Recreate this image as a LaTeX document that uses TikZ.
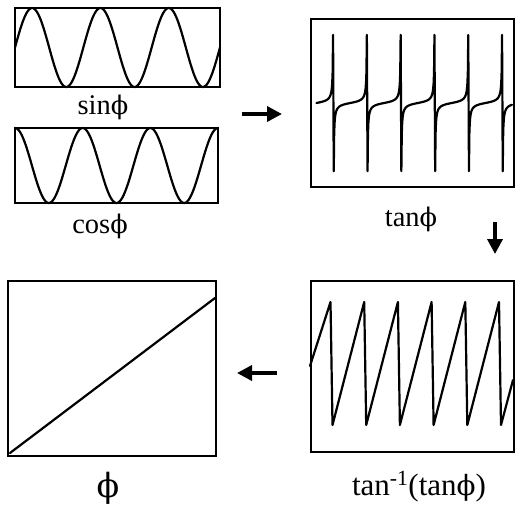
\documentclass[tikz,border=0pt]{standalone}
\usepackage{fontspec}
\setmainfont{Liberation Serif}
\newfontfamily\phifont[Scale=0.9]{DejaVu Serif}
\newcommand{\ph}{{\phifont ϕ}}
\usetikzlibrary{arrows.meta,positioning}

\tikzset{
  panel/.style={draw, line width=1.8pt, inner sep=0pt},
  wave/.style={line width=2.2pt, line join=round, line cap=round},
  toplabel/.style={font=\fontsize{28.5}{28.5}\selectfont, inner sep=0pt, anchor=base},
  botlabel/.style={font=\fontsize{31}{31}\selectfont, inner sep=0pt, anchor=base},
  bigarrow/.style={line width=3.5pt, -{Triangle[length=15pt,width=15pt]}}
}

\begin{document}
\begin{tikzpicture}[x=1pt, y=-1pt]
  \useasboundingbox (0,0) rectangle (516,504);

  % Sine and cosine
  \node[panel, minimum width=205pt, minimum height=79pt] (sinbox) at (117.5,47.5) {};
  \draw[wave] plot[domain=15:220, samples=160] (\x, {47.5-39.5*sin(5.2686*(\x-15))});
  \node[toplabel] (sinlab) at (103,114) {sin\ph};

  \node[panel, minimum width=203pt, minimum height=75pt] (cosbox) at (116.5,165.5) {};
  \draw[wave] plot[domain=15:218, samples=160] (\x, {165.5-37.5*cos(5.3199*(\x-15))});
  \node[toplabel] (coslab) at (100,233) {cos\ph};

  % Tangent
  \node[panel, minimum width=203pt, minimum height=168pt] (tanbox) at (412.5,103) {};
  \draw[wave] plot[domain=0:88.15, samples=40] ({316.5+33.8*\x/180}, {103-2.2*tan(\x)})
    \foreach \n in {1,...,5} {
      -- plot[domain=-88.15:88.15, samples=80] ({316.5+33.8*(\n+\x/180)}, {103-2.2*tan(\x)})
    }
    -- plot[domain=-88.15:-39, samples=30] ({316.5+33.8*(6+\x/180)}, {103-2.2*tan(\x)});
  \node[toplabel] (tanlab) at (411,226) {tan\ph};

  % Arctangent of the tangent
  \node[panel, minimum width=203pt, minimum height=171pt] (atanbox) at (412.5,366.5) {};
  \draw[wave] (310,366) -- (330.5,302)
    \foreach \n in {1,...,5} { -- ++(2,123) -- ++(31.7,-123) }
    -- ++(2,123) -- (513,380);
  \node[botlabel] (atanlab) at (419,495) {tan\textsuperscript{-1}(tan\ph)};

  % Unwrapped phase
  \node[panel, minimum width=208pt, minimum height=175pt] (phibox) at (112,368.5) {};
  \draw[wave] (10,453) -- (215,298);
  \node[botlabel, font=\fontsize{37}{37}\selectfont] (philab) at (108,497) {\ph};

  % Arrows
  \coordinate (r1) at (242,114);
  \coordinate (r2) at (282,114);
  \coordinate (d1) at (495,222);
  \coordinate (d2) at (495,254);
  \coordinate (l1) at (277,373);
  \coordinate (l2) at (237,373);
  \draw[bigarrow] (r1) -- (r2);
  \draw[bigarrow] (d1) -- (d2);
  \draw[bigarrow] (l1) -- (l2);
\end{tikzpicture}
\end{document}
